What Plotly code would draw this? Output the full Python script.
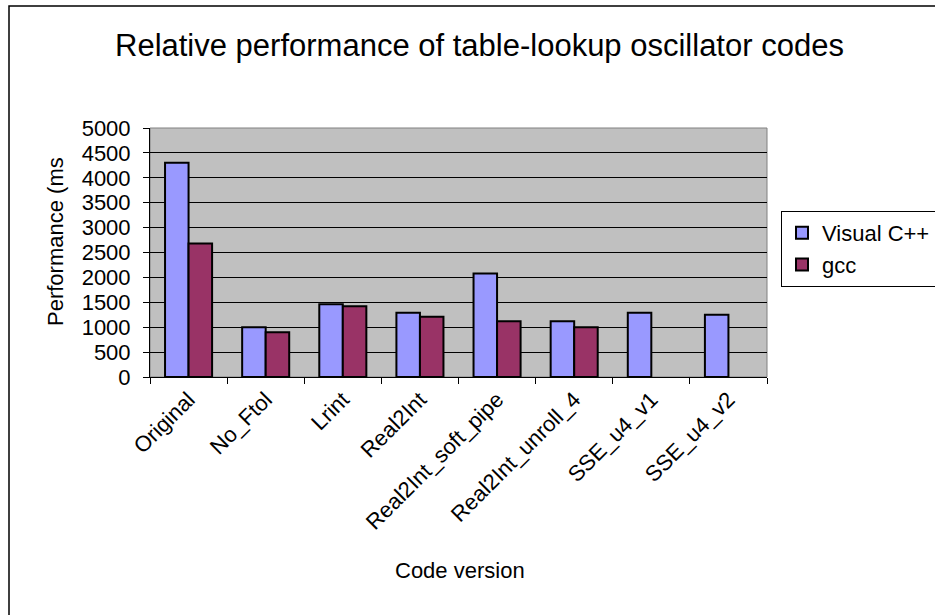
import plotly.graph_objects as go

categories = ["Original", "No_Ftol", "Lrint", "Real2Int", "Real2Int_soft_pipe",
              "Real2Int_unroll_4", "SSE_u4_v1", "SSE_u4_v2"]
visual_cpp = [4300, 1000, 1460, 1290, 2080, 1120, 1290, 1250]
gcc = [2680, 900, 1420, 1210, 1120, 1000, None, None]

W, H = 935, 615
PL, PR, PT, PB = 150, 767, 128, 377  # plot area in pixels

def px(x):
    return (x - PL) / (PR - PL)

def py(y):
    return (PB - y) / (PB - PT)

FONT = "Arial, Liberation Sans, sans-serif"

fig = go.Figure()
fig.add_trace(go.Bar(x=categories, y=visual_cpp, name="Visual C++",
                     marker=dict(color="#9999FF", line=dict(color="black", width=2)),
                     legendgroup="a"))
fig.add_trace(go.Bar(x=categories, y=gcc, name="gcc",
                     marker=dict(color="#993366", line=dict(color="black", width=2)),
                     legendgroup="b"))

fig.update_layout(
    width=W, height=H,
    margin=dict(l=PL, r=W - PR, t=PT, b=H - PB, autoexpand=False),
    paper_bgcolor="white", plot_bgcolor="#C0C0C0",
    font=dict(family=FONT, size=22, color="black"),
    barmode="group", bargap=0.39, bargroupgap=0,
    showlegend=True,
    legend=dict(x=px(781), y=py(211), xanchor="left", yanchor="top",
                bordercolor="black", borderwidth=1, bgcolor="white",
                font=dict(size=22), tracegroupgap=13, traceorder="normal",
                itemwidth=30),
    xaxis=dict(showline=True, linecolor="black", linewidth=1, mirror=False,
               ticks="outside", tickson="boundaries", ticklen=6, tickcolor="black",
               tickangle=-45, showgrid=False, tickfont=dict(size=22)),
    yaxis=dict(range=[0, 5000], dtick=500, showline=True, linecolor="black", linewidth=1,
               ticks="outside", ticklen=6, tickcolor="black", showgrid=True,
               gridcolor="black", gridwidth=1, zeroline=False, tickfont=dict(size=22),
               ticklabelstandoff=8),
    annotations=[
        dict(text="Relative performance of table-lookup oscillator codes", x=px(480), y=py(45),
             xref="paper", yref="paper", showarrow=False, xanchor="center", yanchor="middle",
             font=dict(size=31)),
        dict(text="Performance (ms", x=px(55), y=py(242), xref="paper", yref="paper",
             showarrow=False, textangle=-90, xanchor="center", yanchor="middle",
             font=dict(size=22)),
        dict(text="Code version", x=px(460), y=py(570), xref="paper", yref="paper",
             showarrow=False, xanchor="center", yanchor="middle", font=dict(size=22)),
    ],
    shapes=[
        dict(type="rect", xref="paper", yref="paper", x0=px(9), x1=px(945), y0=py(625), y1=py(6),
             line=dict(color="black", width=1.5), fillcolor="rgba(0,0,0,0)", layer="below"),
        dict(type="rect", xref="paper", yref="paper", x0=0, x1=1, y0=0, y1=1,
             line=dict(color="#808080", width=1), fillcolor="rgba(0,0,0,0)", layer="below"),
    ],
)

fig.write_html("out.html", post_script="document.body.style.margin='0';",
               config={"displayModeBar": False})
